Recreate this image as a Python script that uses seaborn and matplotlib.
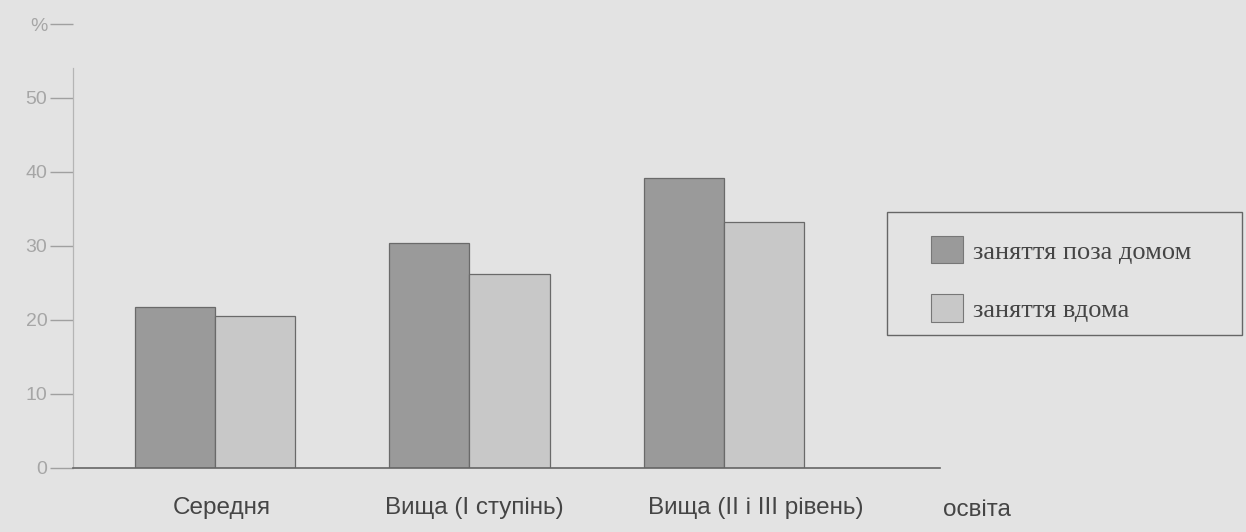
import matplotlib
matplotlib.use("Agg")
import matplotlib.pyplot as plt
import seaborn as sns
import pandas as pd
from matplotlib.patches import Rectangle

categories = ["Середня", "Вища (І ступінь)", "Вища (ІІ і ІІІ рівень)"]
series_names = ["заняття поза домом", "заняття вдома"]
outside_home = [21.7, 30.4, 39.2]
at_home = [20.6, 26.2, 33.3]
y_ticks = [0, 10, 20, 30, 40, 50, 60]
y_tick_labels = ["0", "10", "20", "30", "40", "50", "%"]
axis_title = "освіта"

df = pd.DataFrame({
    "cat": categories * 2,
    "series": [series_names[0]] * 3 + [series_names[1]] * 3,
    "value": outside_home + at_home,
})

sns.set_theme(style="white")
plt.rcParams["font.family"] = ["Liberation Sans", "DejaVu Sans"]

bg = "#e3e3e3"
dark, light = "#9a9a9a", "#c8c8c8"
text_col = "#454545"
fig = plt.figure(figsize=(12.46, 5.32), dpi=100, facecolor=bg)
ax = fig.add_axes([73 / 1246, 1 - 468 / 532, (940 - 73) / 1246, (468 - 24) / 532])
ax.set_facecolor(bg)

sns.barplot(data=df, x="cat", y="value", hue="series", hue_order=series_names,
            order=categories, palette=[dark, light], width=0.63, gap=0,
            edgecolor="#6a6a6a", linewidth=0.9, saturation=1, ax=ax, legend=False)

ax.set_xlim(-0.558, 2.849)
ax.set_ylim(0, 60)
ax.set_yticks(y_ticks)
ax.set_yticklabels(y_tick_labels)
ax.tick_params(axis="y", direction="out", length=16.5, width=1, color="#a0a0a0",
               labelcolor="#a6a6a6", labelsize=14, pad=2, left=True)
# label positions as printed in the original (slightly off-centre)
ax.set_xticks([0.028, 1.02, 2.126])
ax.set_xticklabels(categories)
ax.tick_params(axis="x", length=0, pad=21, labelsize=17.5, labelcolor=text_col)
ax.set_xlabel("")
ax.set_ylabel("")
for s in ["top", "right"]:
    ax.spines[s].set_visible(False)
ax.spines["left"].set_color("#b5b5b5")
ax.spines["left"].set_linewidth(0.9)
ax.spines["left"].set_bounds(0, 54)
ax.spines["bottom"].set_color("#666666")
ax.spines["bottom"].set_linewidth(1.2)

fig.text(943 / 1246, 1 - 510 / 532, axis_title, ha="left", va="center",
         fontsize=17.5, color=text_col)

# legend frame
fig.patches.append(Rectangle((887 / 1246, 1 - 335 / 532), (1242 - 887) / 1246, 123 / 532,
                             transform=fig.transFigure, facecolor=bg, edgecolor="#666666",
                             linewidth=1, zorder=1))
handles = [Rectangle((0, 0), 1, 1, facecolor=c, edgecolor="#777777", linewidth=0.8)
           for c in [dark, light]]
leg = fig.legend(handles, series_names, loc="upper left",
                 bbox_to_anchor=(931 / 1246, 1 - 236 / 532), frameon=False,
                 borderpad=0, borderaxespad=0, handlelength=1.21, handleheight=1.21,
                 handletextpad=0.38, labelspacing=1.17,
                 prop={"family": ["Liberation Serif", "DejaVu Serif"], "size": 19})
for t in leg.get_texts():
    t.set_color(text_col)

fig.savefig("out.png", dpi=100, facecolor=bg)
